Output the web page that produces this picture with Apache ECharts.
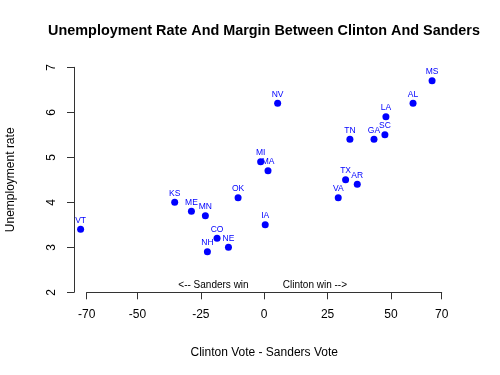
<!DOCTYPE html>
<html>
<head>
<meta charset="utf-8">
<script src="https://cdn.jsdelivr.net/npm/echarts@6/dist/echarts.min.js"></script>
<style>html,body{margin:0;padding:0;background:#fff;}#c{width:500px;height:375px;}</style>
</head>
<body>
<div id="c"></div>
<script>
var states = ['VT','KS','ME','MN','CO','NE','NH','OK','IA','MI','MA','NV','MS','AL','LA','SC','GA','TN','TX','AR','VA'];
var margins = [-72.4,-35.3,-28.7,-23.2,-18.6,-14.1,-22.4,-10.3,0.4,-1.4,1.5,5.3,66.2,58.7,48.0,47.6,43.3,33.8,32.1,36.7,29.2];
var unemployment = [3.4,4.0,3.8,3.7,3.2,3.0,2.9,4.1,3.5,4.9,4.7,6.2,6.7,6.2,5.9,5.5,5.4,5.4,4.5,4.4,4.1];
var xTicks = [-70,-50,-25,0,25,50,70];
var notes = ['<-- Sanders win','Clinton win -->'];
var noteX = [-20,20];
var noteY = [2.15,2.15];

var FONT = 'Liberation Sans, Arial, Helvetica, sans-serif';
var pts = states.map(function(s,i){ return {name:s, value:[margins[i], unemployment[i]]}; });
var notePts = notes.map(function(n,i){ return {name:n, value:[noteX[i], noteY[i]]}; });

var chart = echarts.init(document.getElementById('c'), null, {renderer:'canvas'});
chart.setOption({
  animation:false,
  backgroundColor:'#fff',
  title:{
    text:'Unemployment Rate And Margin Between Clinton And Sanders',
    left:259, top:19, textAlign:'center',
    textStyle:{fontFamily:FONT, fontSize:14.4, fontWeight:'bold', color:'#000'}
  },
  grid:{left:86.7, right:58.3, top:67.3, bottom:82.7, containLabel:false, outerBoundsMode:'none'},
  xAxis:{
    type:'value', min:-70, max:70,
    name:'Clinton Vote - Sanders Vote', nameLocation:'middle', nameGap:54,
    nameTextStyle:{fontFamily:FONT, fontSize:12, color:'#000'},
    axisLine:{show:true, onZero:false, lineStyle:{color:'#333', width:1}},
    axisTick:{show:true, length:7, customValues:xTicks, lineStyle:{color:'#333'}},
    axisLabel:{show:true, margin:16, customValues:xTicks, fontFamily:FONT, fontSize:12, color:'#000'},
    splitLine:{show:false}
  },
  yAxis:{
    type:'value', min:2, max:7, interval:1, offset:12.7,
    name:'Unemployment rate', nameLocation:'middle', nameGap:57, nameRotate:90,
    nameTextStyle:{fontFamily:FONT, fontSize:12, color:'#000'},
    axisLine:{show:true, onZero:false, lineStyle:{color:'#333', width:1}},
    axisTick:{show:true, length:7, lineStyle:{color:'#333'}},
    axisLabel:{show:true, rotate:90, margin:16, fontFamily:FONT, fontSize:12, color:'#000'},
    splitLine:{show:false}
  },
  series:[
    {
      type:'scatter', clip:false, data:pts, symbol:'circle', symbolSize:7,
      itemStyle:{color:'#0000FF', opacity:1},
      label:{show:true, position:'top', distance:1, formatter:'{b}', fontFamily:FONT, fontSize:8.5, color:'#0000FF', opacity:1},
      emphasis:{disabled:true}
    },
    {
      type:'scatter', clip:false, data:notePts, symbolSize:0, silent:true,
      itemStyle:{opacity:1},
      label:{show:true, position:'inside', formatter:'{b}', fontFamily:FONT, fontSize:10, color:'#000', opacity:1},
      emphasis:{disabled:true}
    }
  ]
});
</script>
</body>
</html>
